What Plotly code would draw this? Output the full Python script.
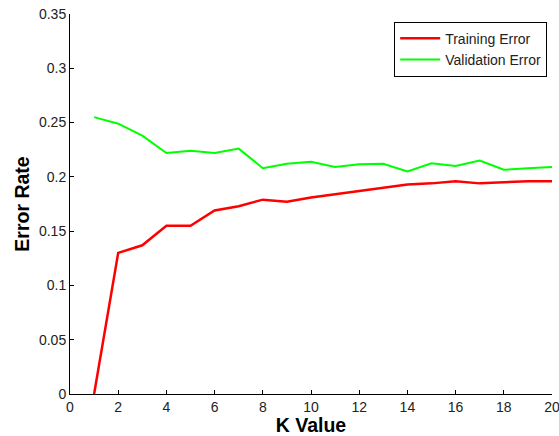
import plotly.graph_objects as go

k_values = list(range(1, 21))
training_error = [0.0, 0.130, 0.137, 0.155, 0.155, 0.169, 0.173, 0.179, 0.177, 0.181,
                  0.184, 0.187, 0.190, 0.193, 0.194, 0.196, 0.194, 0.195, 0.196, 0.196]
validation_error = [0.255, 0.249, 0.238, 0.222, 0.224, 0.222, 0.226, 0.208, 0.212, 0.214,
                    0.209, 0.2115, 0.212, 0.205, 0.2125, 0.210, 0.215, 0.2065, 0.208, 0.209]

FONT = "Liberation Sans, Arial, sans-serif"

fig = go.Figure()
fig.add_trace(go.Scatter(x=k_values, y=training_error, mode="lines", name="Training Error",
                         line=dict(color="#ff0000", width=2.5)))
fig.add_trace(go.Scatter(x=k_values, y=validation_error, mode="lines", name="Validation Error",
                         line=dict(color="#00ff00", width=2)))

axis_common = dict(showline=True, linecolor="black", linewidth=1, mirror=False, automargin=False,
                   ticks="inside", ticklen=4, tickcolor="black", showgrid=False, zeroline=False,
                   ticklabeloverflow="allow",
                   tickfont=dict(family=FONT, size=14, color="#222"))

fig.update_layout(
    width=559, height=436,
    margin=dict(l=70, r=7, t=14, b=42),
    paper_bgcolor="white", plot_bgcolor="white",
    xaxis=dict(range=[0, 20], tickmode="linear", tick0=0, dtick=2,
               title=dict(text="<b>K Value</b>", font=dict(family=FONT, size=19.5, color="black"), standoff=6),
               **axis_common),
    yaxis=dict(range=[0, 0.35], tickmode="linear", tick0=0, dtick=0.05,
               title=dict(text="<b>Error Rate</b>", font=dict(family=FONT, size=19.5, color="black"), standoff=4),
               **axis_common),
    legend=dict(x=0.99, y=0.98, xanchor="right", yanchor="top",
                bordercolor="black", borderwidth=1, bgcolor="white",
                font=dict(family=FONT, size=14, color="#222"),
                tracegroupgap=0, itemwidth=40),
    showlegend=True,
)

# remove the default 8px page margin so the figure sits at the window's top-left corner
fig.write_html("out.html", config={"displayModeBar": False},
               post_script="document.body.style.margin='0';")
